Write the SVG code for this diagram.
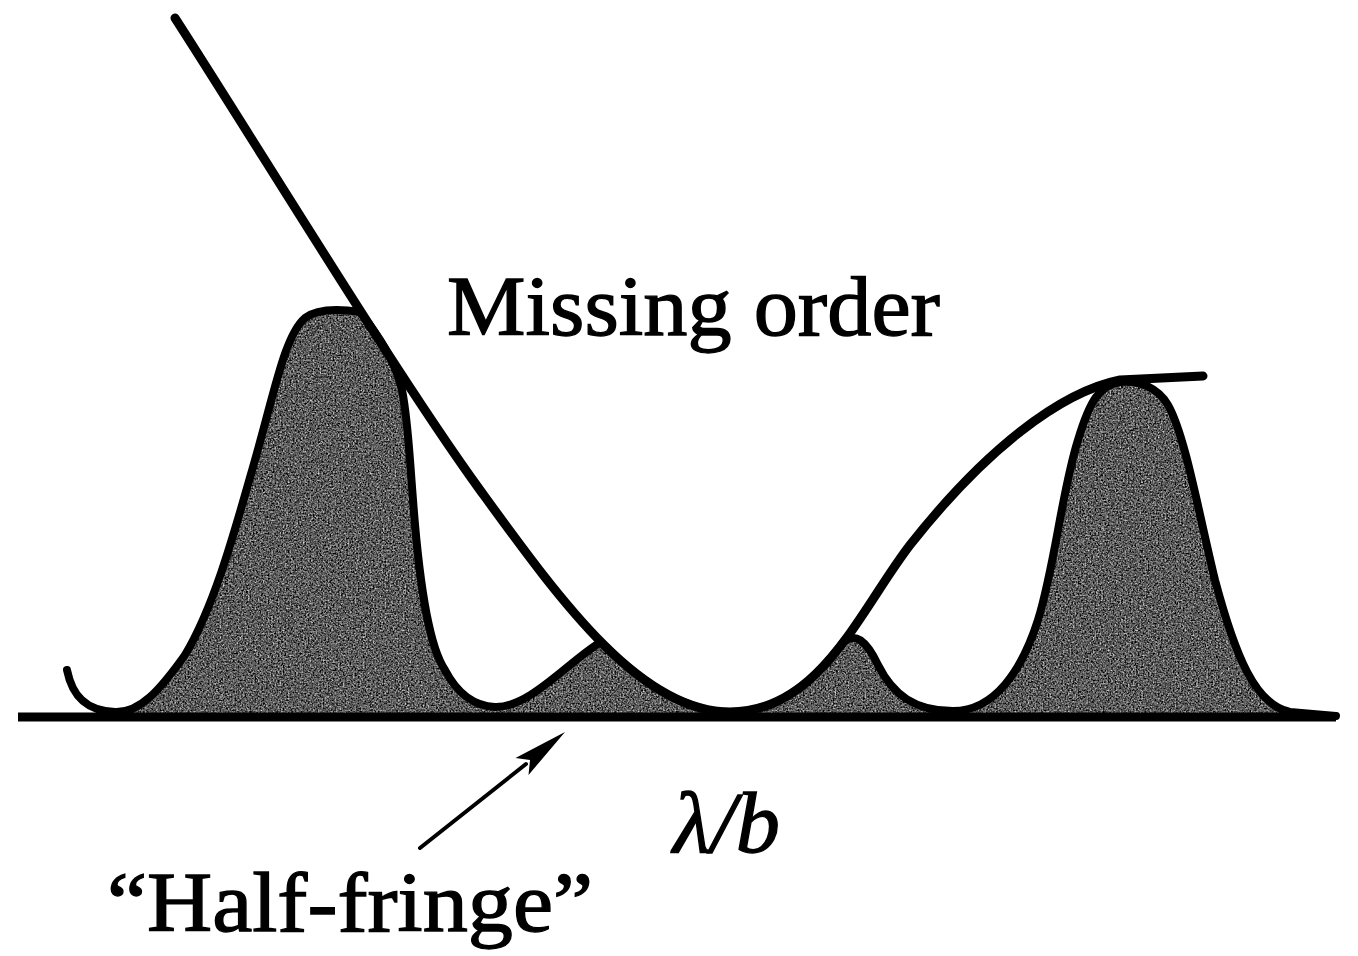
<svg xmlns="http://www.w3.org/2000/svg" width="1358" height="956" viewBox="0 0 1358 956">
  <style>
    .ink { fill: none; stroke: #000; stroke-linecap: round; stroke-linejoin: round; }
    .label { font-family: "Liberation Serif", "DejaVu Serif", serif; fill: #000; stroke: #000; stroke-width: 1.3; }
  </style>
  <defs>
    <filter id="grain" x="0%" y="0%" width="100%" height="100%" color-interpolation-filters="sRGB">
      <feTurbulence type="fractalNoise" baseFrequency="0.6" numOctaves="2" seed="7" result="noise"/>
      <feColorMatrix in="noise" type="matrix" values="0.95 0.95 0 0 -0.6  0.95 0.95 0 0 -0.6  0.95 0.95 0 0 -0.6  0 0 0 0 1" result="gray"/>
      <feComposite in="gray" in2="SourceGraphic" operator="in"/>
    </filter>
  </defs>
  <rect width="1358" height="956" fill="#fff"/>

  <g id="fringe-fill">
    <path filter="url(#grain)" fill="#666" d="M 115,712 C 140,713 160,690 185,655 C 215,605 235,530 255,460 C 275,390 285,335 305,318 C 318,308 340,309 360,312 C 378,335 395,360 402,390 C 408,420 409,450 413,500 C 419,580 428,645 445,670 C 458,695 475,706 495,707 C 530,708 570,660 601,642 C 642.5,684 685,712 730,712 C 779.5,712 813.9,681.1 843.1,642.5 C 855,632 866,640 878,665 C 893,695 915,711 953,711 C 995,711 1022,670 1038,620 C 1055,565 1062,490 1078,440 C 1090,400 1100,385 1120,382 C 1140,380 1158,388 1168,405 C 1185,435 1198,510 1215,580 C 1235,655 1255,705 1290,712 L 1336,716 L 115,716 Z"/>
  </g>

  <g id="baseline">
    <line class="ink" x1="18" y1="717" x2="1336" y2="717" stroke-width="9" style="stroke-linecap:butt"/>
  </g>

  <g id="fringe-curve">
    <path class="ink" stroke-width="8" d="M 67,670 C 72,695 85,711 115,712 C 140,713 160,690 185,655 C 215,605 235,530 255,460 C 275,390 285,335 305,318 C 318,308 340,309 360,312 C 378,335 395,360 402,390 C 408,420 409,450 413,500 C 419,580 428,645 445,670 C 458,695 475,706 495,707 C 530,708 570,660 601,642 C 642.5,684 685,712 730,712 C 779.5,712 813.9,681.1 843.1,642.5 C 855,632 866,640 878,665 C 893,695 915,711 953,711 C 995,711 1022,670 1038,620 C 1055,565 1062,490 1078,440 C 1090,400 1100,385 1120,382 C 1140,380 1158,388 1168,405 C 1185,435 1198,510 1215,580 C 1235,655 1255,705 1290,712 L 1336,716"/>
  </g>

  <g id="envelope">
    <path class="ink" stroke-width="9" d="M 175,18 C 260,150 400,380 480,490 C 560,600 640,712 730,712 C 820,712 860,610 910,545 C 985,450 1060,392 1120,380 L 1203,376"/>
  </g>

  <g id="connectors">
    <line class="ink" x1="420" y1="848" x2="526" y2="764" stroke-width="4"/>
    <polygon fill="#000" points="565,732 528.5,775 530,760 515.5,758"/>
  </g>

  <g id="label-missing-order">
    <text class="label" x="447" y="335" font-size="84" textLength="493" lengthAdjust="spacingAndGlyphs">Missing order</text>
  </g>
  <g id="label-half-fringe">
    <text class="label" x="107" y="931" font-size="84" textLength="486" lengthAdjust="spacingAndGlyphs">“Half-fringe”</text>
  </g>
  <g id="label-lambda-b">
    <text class="label" x="673" y="852" font-size="86" font-style="italic" textLength="107" lengthAdjust="spacingAndGlyphs">λ/b</text>
  </g>
</svg>
